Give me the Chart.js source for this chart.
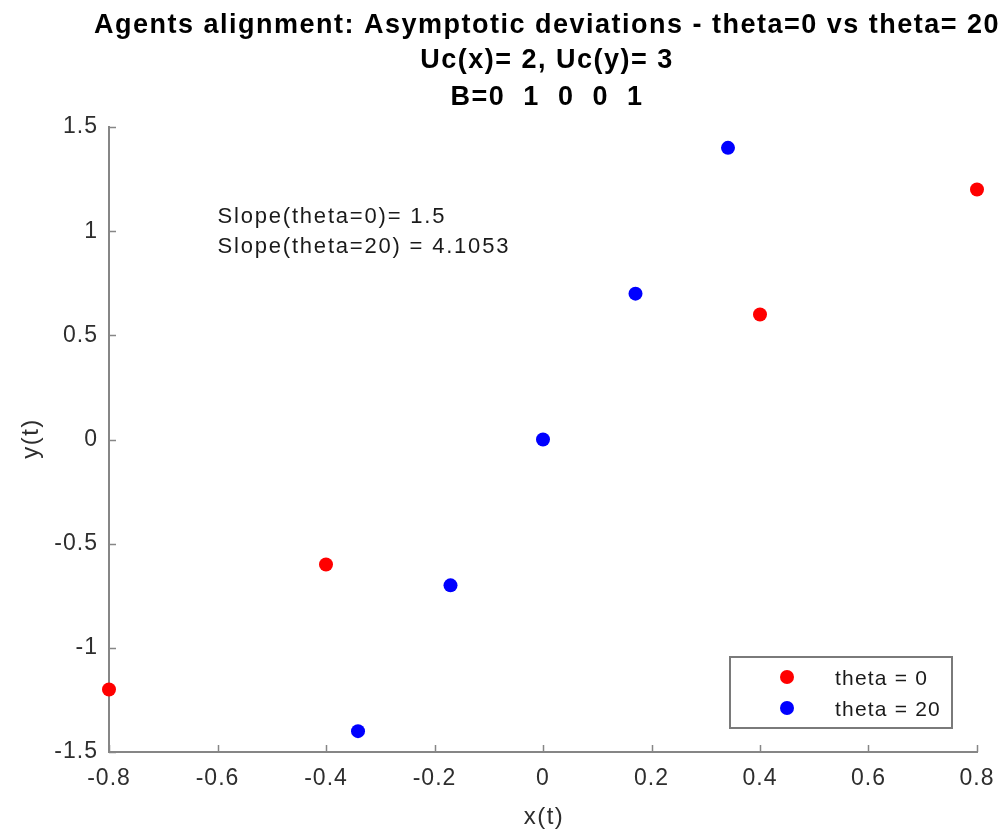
<!DOCTYPE html>
<html>
<head>
<meta charset="utf-8">
<script src="https://cdn.jsdelivr.net/npm/chart.js@4"></script>
<style>
html,body{margin:0;padding:0;background:#fff;}
#wrap{width:1002px;height:833px;position:relative;}
</style>
</head>
<body>
<div id="wrap"><canvas id="c" width="1002" height="833"></canvas></div>
<script>
// ---- data ----
const titleLines = ["Agents alignment: Asymptotic deviations - theta=0 vs theta= 20", "Uc(x)= 2, Uc(y)= 3", "B=0  1  0  0  1"];
const seriesNames = ["theta = 0", "theta = 20"];
const theta0X = [-0.8, -0.4, 0.4, 0.8];
const theta0Y = [-1.2, -0.6, 0.6, 1.2];
const theta20X = [-0.341, -0.1705, 0, 0.1705, 0.341];
const theta20Y = [-1.4, -0.7, 0, 0.7, 1.4];
const xTickValues = [-0.8, -0.6, -0.4, -0.2, 0, 0.2, 0.4, 0.6, 0.8];
const xTickLabels = ["-0.8", "-0.6", "-0.4", "-0.2", "0", "0.2", "0.4", "0.6", "0.8"];
const yTickValues = [-1.5, -1, -0.5, 0, 0.5, 1, 1.5];
const yTickLabels = ["-1.5", "-1", "-0.5", "0", "0.5", "1", "1.5"];
const annotationLines = ["Slope(theta=0)= 1.5", "Slope(theta=20) = 4.1053"];
const annotationAt = {x: -0.6, y: 1.04};
const xLabel = "x(t)";
const yLabel = "y(t)";
const colors = ["#ff0000", "#0000ff"];

const FONT = "'Liberation Sans', Arial, sans-serif";
const AXIS_COLOR = "#868686";
const TEXT_COLOR = "#2e2e2e";

function toPts(xs, ys){ return xs.map((x,i)=>({x:x, y:ys[i]})); }
function labelFor(values, labels, v){
  for (let i=0;i<values.length;i++){ if (Math.abs(values[i]-v)<1e-9) return labels[i]; }
  return "";
}

const extras = {
  id: 'extras',
  beforeDraw(chart){
    chart.ctx.letterSpacing = "1px";
  },
  afterDraw(chart){
    const ctx = chart.ctx;
    const xs = chart.scales.x, ys = chart.scales.y;
    const a = chart.chartArea;
    ctx.save();
    // inward ticks
    ctx.strokeStyle = AXIS_COLOR;
    ctx.lineWidth = 1.5;
    ctx.beginPath();
    xTickValues.forEach(v=>{
      const px = Math.round(xs.getPixelForValue(v))+0.5;
      ctx.moveTo(px, a.bottom); ctx.lineTo(px, a.bottom-7);
    });
    yTickValues.forEach(v=>{
      const py = Math.round(ys.getPixelForValue(v))+0.5;
      ctx.moveTo(a.left, py); ctx.lineTo(a.left+7, py);
    });
    ctx.stroke();
    // title
    ctx.fillStyle = "#000";
    ctx.textAlign = "center";
    ctx.textBaseline = "alphabetic";
    ctx.font = "bold 27px " + FONT;
    ctx.letterSpacing = "1.5px";
    const cx = (a.left + a.right)/2 + 4;
    const tys = [33, 68, 105];
    titleLines.forEach((t,i)=>{
      ctx.fillText(t, cx, tys[i]);
    });
    // annotation
    ctx.fillStyle = "#1a1a1a";
    ctx.textAlign = "left";
    ctx.font = "22px " + FONT;
    ctx.letterSpacing = "1.8px";
    const ax = xs.getPixelForValue(annotationAt.x);
    const ay = ys.getPixelForValue(annotationAt.y);
    annotationLines.forEach((t,i)=>{ ctx.fillText(t, ax, ay + i*30); });
    // axis labels
    ctx.fillStyle = TEXT_COLOR;
    ctx.font = "24px " + FONT;
    ctx.letterSpacing = "1.5px";
    ctx.textAlign = "center";
    ctx.textBaseline = "middle";
    ctx.fillText(xLabel, (a.left+a.right)/2 + 1, 817);
    ctx.save();
    ctx.translate(31, (a.top+a.bottom)/2);
    ctx.rotate(-Math.PI/2);
    ctx.fillText(yLabel, 1, 0);
    ctx.restore();
    // legend
    const lx0 = 730, ly0 = 657, lw = 222, lh = 71;
    ctx.fillStyle = "#fff";
    ctx.fillRect(lx0, ly0, lw, lh);
    ctx.strokeStyle = "#7a7a7a";
    ctx.lineWidth = 2;
    ctx.strokeRect(lx0, ly0, lw, lh);
    const rows = [677, 708];
    ctx.font = "21px " + FONT;
    ctx.letterSpacing = "1.2px";
    seriesNames.forEach((n,i)=>{
      ctx.fillStyle = colors[i];
      ctx.beginPath();
      ctx.arc(787, rows[i], 7, 0, Math.PI*2);
      ctx.fill();
      ctx.fillStyle = "#1a1a1a";
      ctx.textAlign = "left";
      ctx.textBaseline = "alphabetic";
      ctx.fillText(n, 835, rows[i] + 8);
    });
    ctx.restore();
    ctx.letterSpacing = "0px";
  }
};

new Chart(document.getElementById('c'), {
  type: 'scatter',
  data: {
    datasets: [
      {label: seriesNames[0], data: toPts(theta0X, theta0Y), backgroundColor: colors[0], borderColor: colors[0], pointRadius: 7, pointHoverRadius: 7, borderWidth: 0, clip: false},
      {label: seriesNames[1], data: toPts(theta20X, theta20Y), backgroundColor: colors[1], borderColor: colors[1], pointRadius: 7, pointHoverRadius: 7, borderWidth: 0, clip: false}
    ]
  },
  options: {
    responsive: false,
    animation: false,
    events: [],
    layout: {padding: {top: 127, right: 25, left: 0, bottom: 0}},
    plugins: {legend: {display: false}, title: {display: false}, tooltip: {enabled: false}},
    scales: {
      x: {
        type: 'linear', min: -0.8, max: 0.8,
        afterBuildTicks(s){ s.ticks = xTickValues.map(v=>({value:v})); },
        afterFit(s){ s.height = 81; s.paddingLeft = 0; s.paddingRight = 0; },
        grid: {display: false, drawTicks: false},
        border: {display: true, color: AXIS_COLOR, width: 2},
        ticks: {color: TEXT_COLOR, font: {family: FONT, size: 23}, padding: 13, maxRotation: 0, autoSkip: false,
          callback: (v)=>labelFor(xTickValues, xTickLabels, v)}
      },
      y: {
        type: 'linear', min: -1.5, max: 1.5,
        afterBuildTicks(s){ s.ticks = yTickValues.map(v=>({value:v})); },
        afterFit(s){ s.width = 109; s.paddingTop = 0; s.paddingBottom = 0; },
        grid: {display: false, drawTicks: false},
        border: {display: true, color: AXIS_COLOR, width: 2},
        ticks: {color: TEXT_COLOR, font: {family: FONT, size: 23}, padding: 11, autoSkip: false,
          callback: (v)=>labelFor(yTickValues, yTickLabels, v)}
      }
    }
  },
  plugins: [extras]
});
</script>
</body>
</html>
